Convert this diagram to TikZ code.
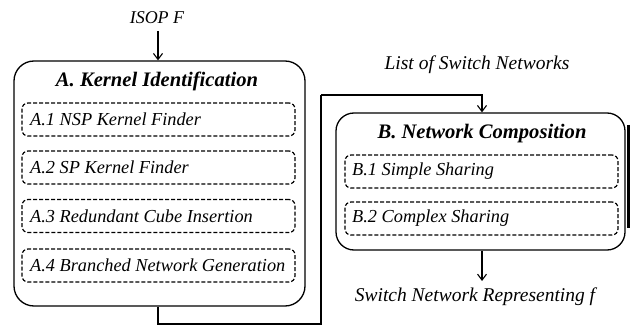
\documentclass[tikz,border=0pt]{standalone}
\usepackage{fontspec}
\setmainfont{Liberation Serif}
\usetikzlibrary{arrows.meta}
\tikzset{
  bigbox/.style={draw, line width=1.3pt, rounded corners=20pt, inner sep=0pt},
  subbox/.style={draw, line width=1.2pt, dash pattern=on 4pt off 2pt, rounded corners=6pt, minimum width=273pt, minimum height=33pt, inner sep=0pt},
  subtext/.style={font=\fontsize{18.3}{21}\selectfont\itshape, anchor=west, inner sep=0pt},
  titletext/.style={font=\fontsize{20.6}{23}\selectfont\bfseries\itshape},
  plaintext/.style={font=\fontsize{19.5}{22}\selectfont\itshape},
  conn/.style={line width=1.3pt, -{Straight Barb[length=6pt,width=9pt,line width=1.1pt]}},
  wire/.style={line width=1.3pt}
}
\begin{document}
\begin{tikzpicture}[x=1pt,y=-1pt]
\useasboundingbox (0,0) rectangle (630,326);
% Box A
\node[bigbox, minimum width=291pt, minimum height=245pt] (A) at (159.5,183.5) {};
\node[titletext] (At) at (157,81) {A. Kernel Identification};
\node[subbox] (A1) at (158.5,119.5) {};
\node[subbox] (A2) at (158.5,167.5) {};
\node[subbox] (A3) at (158.5,216) {};
\node[subbox] (A4) at (158.5,265.5) {};
\node[subtext] (A1t) at (30,119.5) {A.1 NSP Kernel Finder};
\node[subtext] (A2t) at (30,167.5) {A.2 SP Kernel Finder};
\node[subtext] (A3t) at (30,216) {A.3 Redundant Cube Insertion};
\node[subtext] (A4t) at (30,265.5) {A.4 Branched Network Generation};
% Box B
\node[bigbox, rounded corners=18pt, minimum width=289pt, minimum height=137pt] (B) at (480.5,181.5) {};
\node[titletext] (Bt) at (482,134) {B. Network Composition};
\node[subbox] (B1) at (481.5,171.5) {};
\node[subbox] (B2) at (481.5,218.5) {};
\node[subtext] (B1t) at (352,171.5) {B.1 Simple Sharing};
\node[subtext] (B2t) at (352,218.5) {B.2 Complex Sharing};
% right edge bar
\coordinate (r1) at (628.5,125);
\coordinate (r2) at (628.5,228);
\draw[line width=3pt] (r1) -- (r2);
% texts
\node[plaintext, font=\fontsize{18}{21}\selectfont\itshape] (in) at (157,18) {ISOP F};
\node[plaintext] (lst) at (477,65) {List of Switch Networks};
\node[plaintext] (out) at (475,297) {Switch Network Representing \textit{f}};
% connectors
\draw[conn] (158,31) -- (A.north -| 158,0);
\coordinate (c1) at (321,324);
\coordinate (c2) at (321,95);
\draw[wire] ([xshift=-1.5pt]A.south) |- (c1) -- (c2);
\draw[conn] (c2) -| ([xshift=1.5pt]B.north);
\draw[conn] ([xshift=1.5pt]B.south) -- ([xshift=1.5pt]B.south |- 0,281);
\end{tikzpicture}
\end{document}
